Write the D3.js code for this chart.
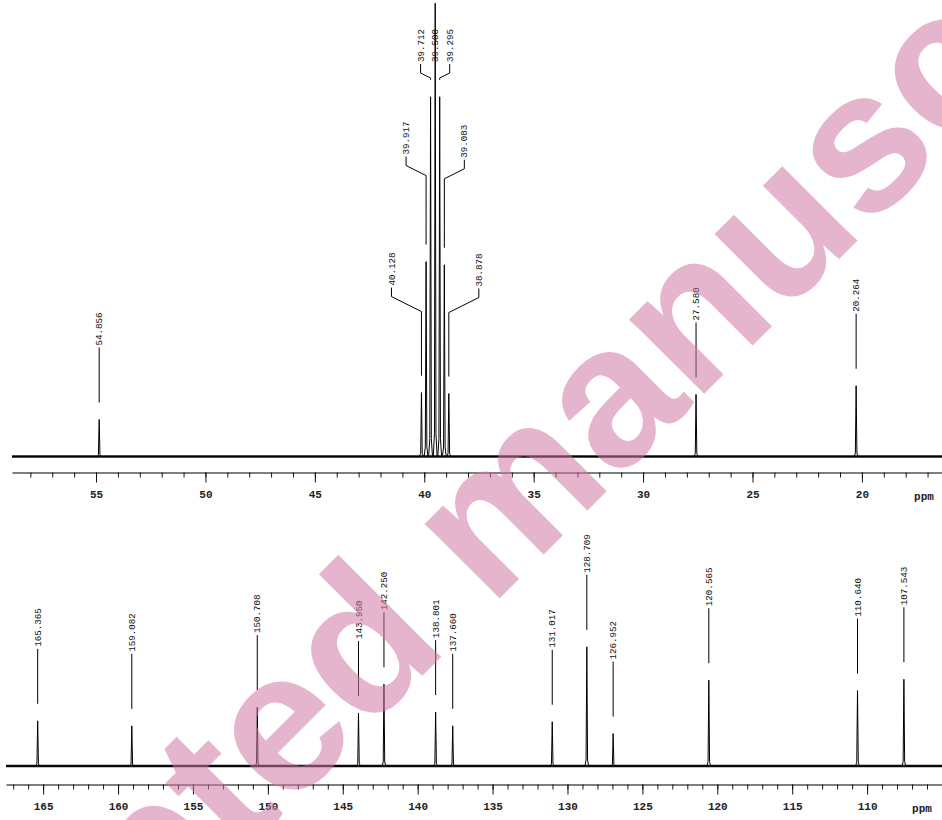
<!DOCTYPE html>
<html>
<head>
<meta charset="utf-8">
<script src="https://cdn.jsdelivr.net/npm/d3@7"></script>
<style>
  html, body { margin: 0; padding: 0; background: #fff; }
  svg { display: block; }
</style>
</head>
<body>
<script>
// ---------- DATA ----------
const topPeakPpm = [54.856, 40.128, 39.917, 39.712, 39.500, 39.295, 39.083, 38.878, 27.580, 20.264];
const topPeakIntensity = [8.1, 14.0, 42.7, 78.8, 99.3, 78.8, 42.0, 13.8, 13.6, 15.5];
const topPeakLabels = ["54.856", "40.128", "39.917", "39.712", "39.500", "39.295", "39.083", "38.878", "27.580", "20.264"];
const topTickLabels = [55, 50, 45, 40, 35, 30, 25, 20];

const bottomPeakPpm = [165.365, 159.082, 150.708, 143.950, 142.250, 138.801, 137.660, 131.017, 128.709, 126.952, 120.565, 110.640, 107.543];
const bottomPeakIntensity = [9.9, 8.8, 12.9, 11.6, 17.9, 11.8, 8.8, 9.7, 26.1, 7.1, 18.8, 16.5, 19.0];
const bottomPeakLabels = ["165.365", "159.082", "150.708", "143.950", "142.250", "138.801", "137.660", "131.017", "128.709", "126.952", "120.565", "110.640", "107.543"];
const bottomTickLabels = [165, 160, 155, 150, 145, 140, 135, 130, 125, 120, 115, 110];

const axisUnit = "ppm";
const watermarkText = "Accepted manuscript";

// ---------- LAYOUT ----------
const W = 942, H = 820;
const svg = d3.select("body").append("svg").attr("width", W).attr("height", H);

// label horizontal offsets (px) used to fan the crowded solvent multiplet labels
const topLabelOffsets = [0, -30, -20, -10, 0, 10, 20, 30, 0, 0];
const bottomLabelOffsets = bottomPeakPpm.map(() => 0);

const panels = [
  {
    ppm: topPeakPpm, inten: topPeakIntensity, labels: topPeakLabels, offsets: topLabelOffsets,
    ticks: topTickLabels,
    x: d3.scaleLinear().domain([58.84, 16.34]).range([12, 942]),
    y: d3.scaleLinear().domain([0, 100]).range([456.5, 0]),
    axisY: 472.5, halfW: 0.035, unitX: 924
  },
  {
    ppm: bottomPeakPpm, inten: bottomPeakIntensity, labels: bottomPeakLabels, offsets: bottomLabelOffsets,
    ticks: bottomTickLabels,
    x: d3.scaleLinear().domain([167.48, 105.0]).range([6, 942]),
    y: d3.scaleLinear().domain([0, 100]).range([766, 309.5]),
    axisY: 784.5, halfW: 0.05, unitX: 922
  }
];

const labelFont = "'Liberation Mono', 'DejaVu Sans Mono', monospace";

panels.forEach(p => {
  const g = svg.append("g");
  const [d0, d1] = p.x.domain();

  // baseline noise band
  g.append("line")
    .attr("x1", p.x(d0)).attr("x2", p.x(d1))
    .attr("y1", p.y(0)).attr("y2", p.y(0))
    .attr("stroke", "#111").attr("stroke-width", 2.4);

  // spectrum trace built from peak list
  const order = d3.range(p.ppm.length).sort((a, b) => p.ppm[b] - p.ppm[a]);
  const pts = [[d0, 0]];
  order.forEach(i => {
    pts.push([p.ppm[i] + p.halfW * 2.5, 0]);
    pts.push([p.ppm[i] + p.halfW, p.inten[i] * 0.05]);
    pts.push([p.ppm[i], p.inten[i]]);
    pts.push([p.ppm[i] - p.halfW, p.inten[i] * 0.05]);
    pts.push([p.ppm[i] - p.halfW * 2.5, 0]);
  });
  pts.push([d1, 0]);
  const line = d3.line().x(d => p.x(d[0])).y(d => p.y(d[1]));
  g.append("path").attr("d", line(pts))
    .attr("fill", "none").attr("stroke", "#000").attr("stroke-width", 1);

  // peak labels with leaders
  p.ppm.forEach((v, i) => {
    const px = p.x(v);
    const top = p.y(p.inten[i]);
    const off = p.offsets[i];
    const lx = px + off;
    let leaderTop = off !== 0 ? top - 105 : top - 72;
    leaderTop = Math.max(leaderTop, 64);
    const lp = [[lx, leaderTop]];
    let yy = leaderTop;
    if (off !== 0) {
      yy = leaderTop + 9;
      lp.push([lx, yy]);
      yy = yy + Math.abs(off) * 0.5;
      lp.push([px, yy]);
    }
    const end = Math.max(top - 17, yy);
    lp.push([px, end]);
    g.append("path").attr("d", d3.line()(lp))
      .attr("fill", "none").attr("stroke", "#000").attr("stroke-width", 1);
    g.append("text")
      .attr("transform", `translate(${lx},${leaderTop - 2}) rotate(-90)`)
      .attr("dy", "0.33em")
      .attr("text-anchor", "start")
      .attr("font-family", labelFont)
      .attr("font-size", 9.2)
      .attr("fill", "#111")
      .text(p.labels[i]);
  });

  // axis
  const ax = svg.append("g").attr("transform", `translate(0,${p.axisY})`);
  const minorVals = d3.range(Math.ceil(d1), Math.floor(d0) + 1);
  const minor = d3.axisBottom(p.x).tickValues(minorVals).tickSize(5).tickSizeOuter(0).tickFormat("");
  ax.call(minor);
  ax.select(".domain").attr("stroke", "#000").attr("stroke-width", 1.2);
  const major = d3.axisBottom(p.x).tickValues(p.ticks).tickSize(10).tickPadding(8).tickFormat(d3.format("d"));
  const axM = svg.append("g").attr("transform", `translate(0,${p.axisY})`).call(major);
  axM.select(".domain").remove();
  axM.selectAll("text")
    .attr("font-family", labelFont).attr("font-size", 11).attr("font-weight", "bold").attr("fill", "#222");
  ax.selectAll("line").attr("stroke", "#111");
  axM.selectAll("line").attr("stroke", "#111");

  svg.append("text")
    .attr("x", p.unitX).attr("y", p.axisY + 27)
    .attr("text-anchor", "middle")
    .attr("font-family", labelFont).attr("font-size", 11).attr("font-weight", "bold").attr("fill", "#222")
    .text(axisUnit);
});

// watermark
svg.append("text")
  .attr("transform", "translate(533,565) rotate(-45)")
  .attr("text-anchor", "middle")
  .attr("font-family", "'Liberation Sans', Arial, sans-serif")
  .attr("font-weight", "bold")
  .attr("font-size", 200)
  .attr("fill", "rgb(208,118,164)")
  .attr("fill-opacity", 0.55)
  .text(watermarkText);
</script>
</body>
</html>
